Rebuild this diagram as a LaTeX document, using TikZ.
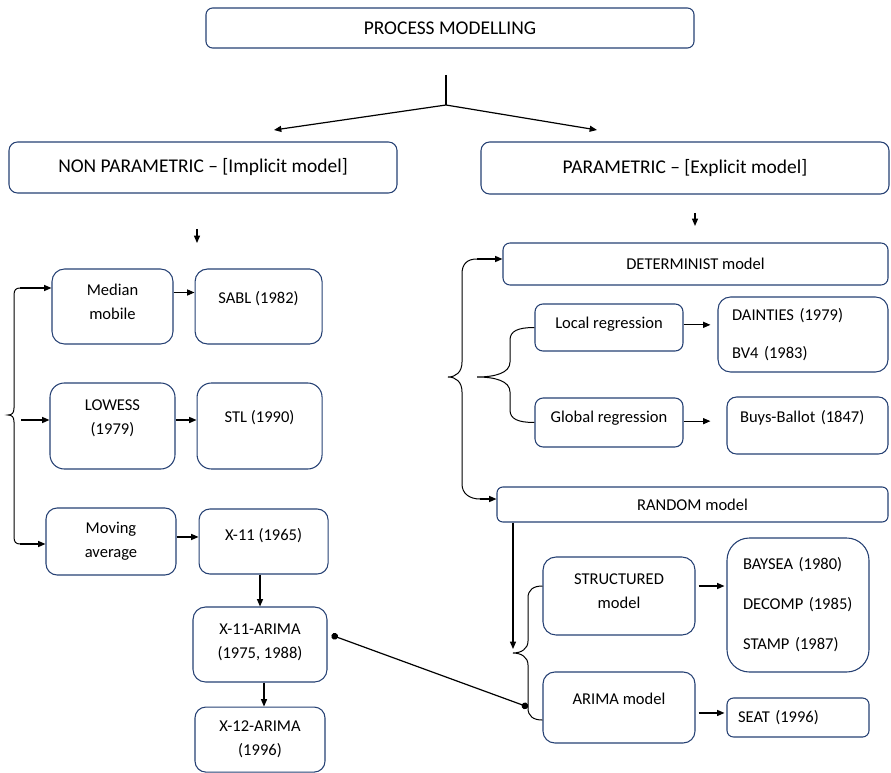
\documentclass[tikz,border=0pt]{standalone}
\usepackage{fontspec}
\setmainfont{Carlito}
\usetikzlibrary{arrows.meta, positioning}
\definecolor{boxblue}{RGB}{37, 64, 115}

\begin{document}
\begin{tikzpicture}[
    x=0.75pt, y=-0.75pt,
    box/.style 2 args={draw=boxblue, line width=0.8pt, align=center, inner sep=0pt,
                minimum width={#1*0.75pt}, minimum height={#2*0.75pt},
                rounded corners={min(#1,#2)*0.125pt},
                font=\fontsize{12.4}{18}\selectfont},
    big/.style={font=\fontsize{14.6}{18}\selectfont},
    lbox/.style 2 args={align=left, text width=#1, inner xsep=#2},
    lift/.style={text height=9pt, text depth=#1},
    liftm/.style={text height=27pt, text depth=#1},
    arr/.style={-{Triangle[length=5.5pt, width=4.5pt]}, line width=0.9pt},
    brc/.style={line width=0.75pt},
    link/.style={{Circle[length=5pt]}-{Circle[length=5pt]}, line width=0.9pt}
  ]
    \useasboundingbox (0,0) rectangle (891,773);

    \node[box={488}{40}, big] (pm) at (450,28) {PROCESS MODELLING};
    \node[box={388}{51}, big] (np) at (203,167.5) {NON PARAMETRIC – [Implicit model]};
    \node[box={408}{52}, big] (par) at (685,168) {PARAMETRIC – [Explicit model]};

    \node[box={121}{75}, liftm=8pt] (med) at (112.5,306.5) {Median\\mobile};
    \node[box={127}{75}, lift=14pt, right=15.75pt of med] (sabl) {SABL (1982)};
    \node[box={125}{86}, liftm=14.7pt] (low) at (112.5,426) {LOWESS\\(1979)};
    \node[box={125}{86}, lift=15pt, right=15.75pt of low] (stl) {STL (1990)};
    \node[box={130}{67}] (mov) at (111,541.5) {Moving\\average};
    \node[box={129}{65}, lift=11pt, right=16.5pt of mov] (x11) {X-11 (1965)};
    \node[box={134}{75}, liftm=6.4pt] (x11a) at (260,644.5) {X-11-ARIMA\\(1975, 1988)};
    \node[box={130}{65}, below=18pt of x11a] (x12a) {X-12-ARIMA\\(1996)};

    \node[box={385}{42}] (det) at (695.5,264) {DETERMINIST model};
    \node[box={148}{47}, lift=8pt] (loc) at (609,327.5) {Local regression};
    \node[box={170}{75}, lbox={106.5pt}{10.5pt}, font=\fontsize{12.4}{28.5}\selectfont]
      (dai) at (803,334.5) {DAINTIES (1979)\\BV4 (1983)};
    \node[box={148}{49}, lift=9.75pt] (glo) at (609,422.5) {Global regression};
    \node[box={161}{57}, lbox={101.25pt}{9.75pt}, lift=14pt] (buy) at (807.5,425.5) {Buys-Ballot (1847)};
    \node[box={391}{35}] (rnd) at (692.5,504.5) {RANDOM model};
    \node[box={152}{78}, liftm=8.7pt] (str) at (619,596) {STRUCTURED\\model};
    \node[box={142}{134}, lbox={82.5pt}{12pt}, font=\fontsize{12.4}{30}\selectfont]
      (bay) at (798,605) {BAYSEA (1980)\\DECOMP (1985)\\STAMP (1987)};
    \node[box={152}{71}, lift=14pt] (ari) at (619,707.5) {ARIMA model};
    \node[box={142}{39}, lbox={90pt}{8.25pt}] (seat) at (798,717.5) {SEAT (1996)};

    \coordinate (stem) at (446,75);
    \coordinate (split) at (446,105);
    \coordinate (npin) at (274,130);
    \coordinate (parin) at (597,130);
    \coordinate (npdown) at (197,229);
    \coordinate (pardown) at (695,213);
    \draw[line width=0.9pt] (stem) -- (split);
    \draw[arr] (split) -- (npin);
    \draw[arr] (split) -- (parin);
    \draw[arr] (npdown) -- ++(0,14);
    \draw[arr] (pardown) -- ++(0,13);

    \coordinate (lbt) at (20,288);
    \coordinate (lbm) at (21,420);
    \coordinate (lbb) at (20,544);
    \draw[brc] (lbt) .. controls (16,288) and (14,290) .. (14,295) -- (14,408)
      .. controls (14,413) and (12,415) .. (8,415) .. controls (12,415) and (14,417) .. (14,422)
      -- (14,537) .. controls (14,542) and (16,544) .. (lbb);
    \draw[arr] (lbt) -- (lbt -| med.west);
    \draw[arr] (lbm) -- (lbm -| low.west);
    \draw[arr] (lbb) -- (lbb -| mov.west);

    \draw[arr] ([yshift=10.5pt]med.east) -- ([yshift=10.5pt]med.east -| sabl.west);
    \draw[arr] ([yshift=4.5pt]low.east) -- ([yshift=4.5pt]low.east -| stl.west);
    \draw[arr] ([yshift=3.4pt]mov.east) -- ([yshift=3.4pt]mov.east -| x11.west);
    \draw[arr] (x11a.north |- x11.south) -- (x11a.north);
    \draw[arr] ([xshift=3pt]x11a.south) -- ([xshift=3pt]x12a.north);

    \coordinate (bbt) at (477,259);
    \coordinate (bbb) at (480,499);
    \draw[brc] (bbt) .. controls (467,259) and (462,264) .. (462,274) -- (462,362)
      .. controls (462,372) and (456,377) .. (448,377) .. controls (456,377) and (462,382) .. (462,392)
      -- (462,484) .. controls (462,494) and (470,499) .. (bbb);
    \draw[arr] (bbt) -- (bbt -| det.west);
    \draw[arr] (bbb) -- (bbb -| rnd.west);

    \draw[brc] (loc.west) .. controls (518,327.5) and (510,331) .. (510,340) -- (510,362)
      .. controls (510,373) and (495,377) .. (477,377) .. controls (495,377) and (510,381) .. (510,392)
      -- (510,410) .. controls (510,419) and (518,422.5) .. (glo.west);
    \draw[arr, shorten >=5.25pt] ([yshift=2pt]loc.east) -- ([yshift=2pt]loc.east -| dai.west);
    \draw[arr, shorten >=12pt] ([yshift=1pt]glo.east) -- ([yshift=1pt]glo.east -| buy.west);

    \coordinate (rbt) at ([yshift=7.5pt]str.west);
    \coordinate (rbtip) at (513,653);
    \coordinate (rbb) at ([yshift=-9.4pt]ari.west);
    \coordinate (rbdot) at (528,707);
    \draw[brc] (rbt) .. controls (533,586) and (528,590) .. (528,598) -- (528,641)
      .. controls (528,649) and (521,653) .. (rbtip) .. controls (521,653) and (528,657) .. (528,665)
      -- (528,708) .. controls (528,716) and (533,720) .. (rbb);
    \draw[arr, shorten >=3pt] (rnd.south west -| rbtip) -- (rbtip);
    \draw[arr, shorten <=2.25pt, shorten >=1.5pt] ([yshift=7.5pt]str.east) -- ([yshift=7.5pt]str.east -| bay.west);
    \draw[arr, shorten <=2.25pt, shorten >=1.5pt] ([yshift=-4.1pt]ari.east) -- ([yshift=-4.1pt]ari.east -| seat.west);
    \draw[link] ([shift={(3pt,7pt)}]x11a.east) -- (rbdot);
  \end{tikzpicture}
\end{document}
